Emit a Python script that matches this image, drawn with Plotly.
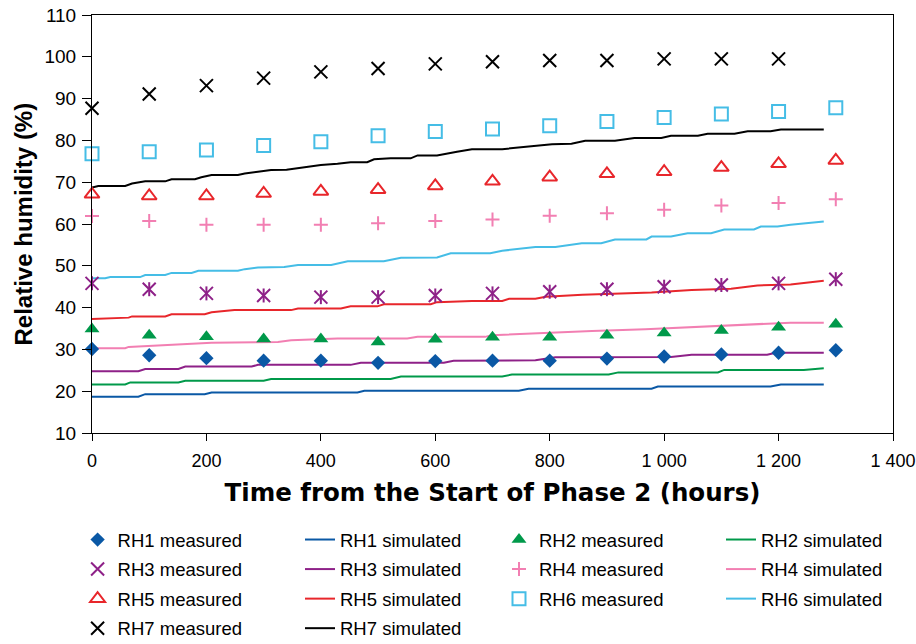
import plotly.graph_objects as go

# ---------------- data ----------------
hours_measured = [0, 100, 200, 300, 400, 500, 600, 700, 800, 900, 1000, 1100, 1200, 1300]

rh1_measured = [30.1, 28.6, 27.9, 27.3, 27.3, 26.8, 27.2, 27.3, 27.3, 27.8, 28.3, 28.8, 29.2, 29.8]
rh2_measured = [34.9, 33.4, 33.0, 32.5, 32.5, 31.8, 32.4, 32.9, 32.9, 33.4, 33.9, 34.5, 35.3, 36.0]
rh3_measured = [45.8, 44.4, 43.4, 42.9, 42.5, 42.5, 42.9, 43.4, 43.8, 44.4, 45.0, 45.4, 45.8, 46.8]
rh4_measured = [61.9, 60.7, 59.8, 59.8, 59.8, 60.2, 60.7, 61.1, 62.0, 62.6, 63.4, 64.4, 65.0, 65.9]
rh5_measured = [67.1, 66.7, 66.7, 67.3, 67.8, 68.2, 69.1, 70.2, 71.2, 72.0, 72.5, 73.5, 74.4, 75.2]
rh6_measured = [76.8, 77.3, 77.7, 78.8, 79.7, 81.1, 82.1, 82.7, 83.5, 84.5, 85.5, 86.3, 86.9, 87.8]
rh7_measured = [87.7, 91.1, 93.1, 94.9, 96.4, 97.2, 98.3, 98.8, 99.1, 99.1, 99.5, 99.5, 99.5]

rh1_sim_t = [0, 81, 93, 197, 209, 464, 476, 746, 763, 978, 989, 1186, 1204, 1279]
rh1_sim_v = [18.7, 18.7, 19.3, 19.3, 19.7, 19.7, 20.1, 20.1, 20.6, 20.6, 21.1, 21.1, 21.6, 21.6]

rh2_sim_t = [0, 58, 67, 151, 163, 300, 313, 522, 540, 717, 734, 903, 920, 1094, 1105, 1244, 1279]
rh2_sim_v = [21.6, 21.6, 22.1, 22.1, 22.5, 22.5, 22.9, 22.9, 23.5, 23.5, 24.0, 24.0, 24.5, 24.5, 25.1, 25.1, 25.5]

rh3_sim_t = [0, 81, 93, 151, 163, 279, 290, 452, 470, 615, 632, 775, 810, 1012, 1048, 1180, 1195, 1279]
rh3_sim_v = [24.8, 24.8, 25.3, 25.3, 25.9, 25.9, 26.3, 26.3, 26.8, 26.8, 27.3, 27.4, 28.1, 28.2, 28.7, 28.7, 29.2, 29.2]

rh4_sim_t = [0, 58, 64, 128, 209, 325, 348, 429, 551, 569, 687, 699, 793, 874, 967, 1059, 1152, 1221, 1279]
rh4_sim_v = [30.3, 30.3, 30.6, 31.1, 31.6, 31.8, 32.2, 32.6, 32.6, 33.0, 33.0, 33.4, 34.0, 34.4, 34.8, 35.4, 35.9, 36.4, 36.4]

rh5_sim_t = [0, 64, 70, 128, 139, 197, 209, 249, 348, 360, 435, 452, 499, 510, 592, 603, 664, 717, 729, 775, 793, 857, 978, 1048, 1117, 1163, 1221, 1279]
rh5_sim_v = [37.3, 37.6, 37.9, 37.9, 38.4, 38.4, 38.9, 39.4, 39.4, 39.8, 39.8, 40.3, 40.3, 40.8, 40.8, 41.3, 41.6, 41.6, 42.1, 42.1, 42.6, 43.1, 43.6, 44.2, 44.5, 45.3, 45.5, 46.4]

rh6_sim_t = [0, 23, 32, 84, 93, 128, 139, 174, 186, 255, 267, 290, 336, 360, 418, 447, 510, 540, 603, 627, 641, 696, 717, 775, 810, 856, 890, 914, 969, 978, 1012, 1041, 1082, 1105, 1157, 1169, 1198, 1221, 1279]
rh6_sim_v = [47.0, 47.0, 47.3, 47.3, 47.8, 47.8, 48.3, 48.3, 48.8, 48.8, 49.2, 49.6, 49.7, 50.2, 50.2, 51.1, 51.1, 51.9, 52.0, 53.0, 53.0, 53.0, 53.6, 54.5, 54.5, 55.4, 55.4, 56.3, 56.3, 57.0, 57.0, 57.8, 57.8, 58.7, 58.7, 59.4, 59.4, 59.8, 60.6]

rh7_sim_t = [0, 11, 58, 70, 93, 128, 139, 180, 191, 209, 255, 267, 290, 313, 340, 360, 400, 429, 452, 481, 493, 522, 557, 569, 603, 638, 664, 717, 757, 804, 838, 862, 914, 948, 995, 1012, 1059, 1076, 1123, 1146, 1186, 1204, 1279]
rh7_sim_v = [68.7, 69.1, 69.1, 69.7, 70.2, 70.2, 70.7, 70.7, 71.2, 71.7, 71.7, 72.1, 72.5, 72.9, 73.0, 73.4, 74.1, 74.4, 74.8, 74.8, 75.5, 75.7, 75.7, 76.4, 76.4, 77.3, 77.9, 77.9, 78.5, 79.1, 79.2, 79.9, 79.9, 80.6, 80.6, 81.1, 81.1, 81.6, 81.6, 82.2, 82.2, 82.6, 82.6]

x_tick_vals = [0, 200, 400, 600, 800, 1000, 1200, 1400]
x_tick_text = ["0", "200", "400", "600", "800", "1 000", "1 200", "1 400"]
y_tick_vals = [10, 20, 30, 40, 50, 60, 70, 80, 90, 100, 110]

x_title = "Time from the Start of Phase 2 (hours)"
y_title = "Relative humidity (%)"

# ---------------- styles ----------------
C_BLUE = "#0A58A5"
C_GREEN = "#00994A"
C_PURPLE = "#8E2188"
C_PINK = "#F27FB2"
C_RED = "#E8262B"
C_CYAN = "#45BDE6"
C_BLACK = "#000000"

FONT = "Liberation Sans, Arial, sans-serif"
FONT_WIDE = "DejaVu Sans, Verdana, sans-serif"

fig = go.Figure()

def measured(name, y, symbol, color, size, legend, group, lw=2):
    fig.add_trace(go.Scatter(
        x=hours_measured[:len(y)], y=y, mode="markers", name=name,
        marker=dict(symbol=symbol, size=size, color=color,
                    line=dict(color=color, width=lw)),
        cliponaxis=False, legend=legend, legendgroup=group))

def simulated(name, t, v, color, legend, group):
    fig.add_trace(go.Scatter(
        x=t, y=v, mode="lines", name=name,
        line=dict(color=color, width=2),
        cliponaxis=False, legend=legend, legendgroup=group))

# simulated lines first (under markers)
simulated("RH1 simulated", rh1_sim_t, rh1_sim_v, C_BLUE, "legend2", "s1")
simulated("RH3 simulated", rh3_sim_t, rh3_sim_v, C_PURPLE, "legend2", "s3")
simulated("RH5 simulated", rh5_sim_t, rh5_sim_v, C_RED, "legend2", "s5")
simulated("RH7 simulated", rh7_sim_t, rh7_sim_v, C_BLACK, "legend2", "s7")
simulated("RH2 simulated", rh2_sim_t, rh2_sim_v, C_GREEN, "legend4", "s2")
simulated("RH4 simulated", rh4_sim_t, rh4_sim_v, C_PINK, "legend4", "s4")
simulated("RH6 simulated", rh6_sim_t, rh6_sim_v, C_CYAN, "legend4", "s6")

measured("RH1 measured", rh1_measured, "diamond", C_BLUE, 11, "legend", "m1", lw=0)
# asterisk = X plus vertical bar
fig.add_trace(go.Scatter(
    x=hours_measured, y=rh3_measured, mode="markers", showlegend=False,
    marker=dict(symbol="line-ns-open", size=10, color=C_PURPLE, line=dict(color=C_PURPLE, width=2)),
    cliponaxis=False, legend="legend", legendgroup="m3"))
measured("RH3 measured", rh3_measured, "x-thin-open", C_PURPLE, 13, "legend", "m3")
measured("RH5 measured", rh5_measured, "triangle-up-open", C_RED, 13, "legend", "m5")
measured("RH7 measured", rh7_measured, "x-thin-open", C_BLACK, 13, "legend", "m7")
measured("RH2 measured", rh2_measured, "triangle-up", C_GREEN, 13, "legend3", "m2", lw=0)
measured("RH4 measured", rh4_measured, "cross-thin-open", C_PINK, 10, "legend3", "m4")
measured("RH6 measured", rh6_measured, "square-open", C_CYAN, 13, "legend3", "m6")

W, H = 916, 644
L, R, T, B = 92, 23, 15, 211
plot_w = W - L - R

leg_common = dict(
    orientation="v", traceorder="grouped", tracegroupgap=2.5,
    font=dict(family=FONT, size=18.5, color="#000000"),
    bgcolor="rgba(0,0,0,0)", borderwidth=0,
    xref="container", yref="container", xanchor="left", yanchor="top",
    y=1 - 521 / H,
)

fig.update_layout(
    width=W, height=H,
    margin=dict(l=L, r=R, t=T, b=B, autoexpand=False),
    paper_bgcolor="white", plot_bgcolor="white",
    font=dict(family=FONT, color="#000000"),
    xaxis=dict(
        range=[0, 1400], tickvals=x_tick_vals, ticktext=x_tick_text,
        showgrid=False, zeroline=False, automargin=False,
        showline=True, linecolor="#000000", linewidth=1, mirror=True,
        ticks="outside", ticklen=7, tickcolor="#000000", tickwidth=1,
        ticklabelstandoff=4, ticklabeloverflow="allow",
        tickfont=dict(family=FONT, size=18, color="#000000"),
        title=dict(text="<b>" + x_title + "</b>",
                   font=dict(family=FONT_WIDE, size=24.5, color="#000000"), standoff=14),
    ),
    yaxis=dict(
        range=[10, 110], tickvals=y_tick_vals,
        showgrid=False, zeroline=False, automargin=False,
        showline=True, linecolor="#000000", linewidth=1, mirror=True,
        ticks="outside", ticklen=9, tickcolor="#000000", tickwidth=1,
        ticklabelstandoff=2, ticklabeloverflow="allow",
        tickfont=dict(family=FONT, size=19, color="#000000"),
    ),
    annotations=[dict(
        text="<b>" + y_title + "</b>", textangle=-90,
        xref="paper", yref="paper", x=(22.5 - L) / plot_w, y=0.5,
        xanchor="center", yanchor="middle", showarrow=False,
        font=dict(family=FONT, size=24, color="#000000"),
    )],
    legend=dict(leg_common, x=77.6 / W),
    legend2=dict(leg_common, x=300 / W),
    legend3=dict(leg_common, x=499 / W),
    legend4=dict(leg_common, x=721 / W),
)

fig.write_html("out.html")
